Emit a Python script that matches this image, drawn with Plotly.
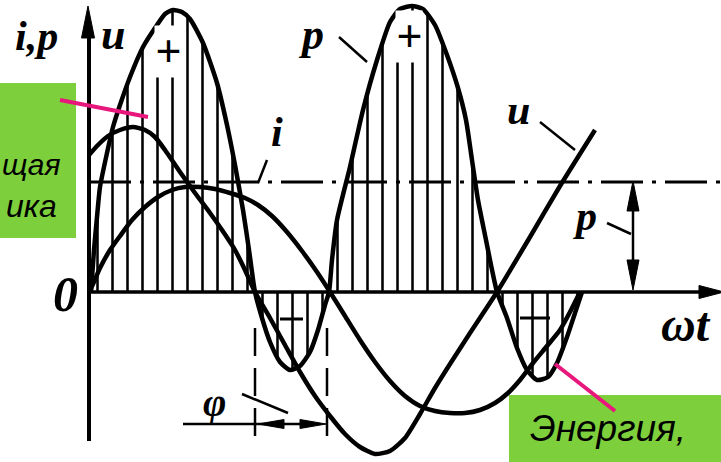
import plotly.graph_objects as go

W, H = 721, 462

# ωt in electrical degrees; u, i, p in relative units (zero line = 0)
p_deg = [1.5, 3.75, 6, 8.25, 13.5, 18, 23.25, 30.75, 40.5, 51, 57, 63, 69.75, 75.75, 85.5, 96,
         103.5, 109.5, 115.5, 120, 124.5,
         129.75, 135.75, 143.25, 150.75, 158.25, 165.75, 171.75, 177, 180,
         182.25, 186, 195.75, 205.5, 216, 225.75, 233.25, 242.25, 250.5, 259.5, 268.5, 276.75,
         282.75, 287.25, 291.75, 297.75, 301.5, 306,
         313.5, 321, 328.5, 336, 344.25, 351, 358.5, 364.5, 369.75]
p_val = [0, 0.42, 0.75, 1.05, 1.39, 1.65, 1.87, 2.15, 2.45, 2.67, 2.78, 2.82, 2.80, 2.73, 2.49, 2.09,
         1.67, 1.27, 0.82, 0.42, 0,
         -0.26, -0.50, -0.70, -0.78, -0.74, -0.60, -0.38, -0.13, 0,
         0.32, 0.72, 1.25, 1.82, 2.32, 2.70, 2.83, 2.86, 2.83, 2.67, 2.37, 2.04,
         1.72, 1.32, 0.92, 0.52, 0.27, 0,
         -0.26, -0.56, -0.78, -0.88, -0.85, -0.71, -0.45, -0.21, 0]

u_deg = [0, 6.75, 14.25, 23.25, 33, 42, 49.5, 57, 68.25, 79.5, 90.75, 99.75, 109.5, 117, 124.5,
         135.75, 147, 158.25, 169.5, 180.75, 192, 203.25, 214.5, 225.75, 237, 248.25, 259.5,
         270.75, 285.75, 306, 330.75, 353.25, 379.5]
u_val = [1.37, 1.47, 1.56, 1.62, 1.65, 1.62, 1.55, 1.42, 1.20, 0.99, 0.79, 0.62, 0.42, 0.22, 0,
         -0.26, -0.53, -0.80, -1.04, -1.24, -1.42, -1.55, -1.62, -1.59, -1.46, -1.22, -0.96,
         -0.72, -0.41, 0, 0.55, 1.06, 1.62]

i_deg = [0, 3, 8.25, 15.75, 23.25, 32.25, 42, 51.75, 62.25, 72, 83.25, 94.5, 105.75, 117, 126.75,
         137.25, 148.5, 159.75, 171, 180.75, 192, 203.25, 214.5, 225.75, 237, 248.25, 259.5,
         270.75, 282, 293.25, 304.5, 314.25, 323.25, 333, 343.5, 353.25, 360.75, 368.25]
i_val = [0, 0.08, 0.24, 0.42, 0.56, 0.72, 0.85, 0.95, 1.02, 1.05, 1.05, 1.03, 0.99, 0.94, 0.87,
         0.76, 0.60, 0.41, 0.20, 0, -0.24, -0.48, -0.70, -0.89, -1.04, -1.14, -1.19,
         -1.21, -1.21, -1.18, -1.11, -1.01, -0.88, -0.71, -0.54, -0.38, -0.20, 0]

P_avg = 1.10                 # average power level
P_span = [0, 474]            # ωt extent of the average-power line

X_RANGE = [-66.75, 474.0]
Y_RANGE = [-1.70, 2.92]

SERIF = "Liberation Serif"
SANS = "Liberation Sans"
GREEN = "#7DCF3B"
PINK = "#E8177C"


def pt(x, y):
    """pixel position -> paper fraction"""
    return x / W, 1 - y / H


def seg(x0, y0, x1, y1, color="black", width=2.5, dash=None):
    a, b = pt(x0, y0)
    c, d = pt(x1, y1)
    return dict(type="line", xref="paper", yref="paper", x0=a, y0=b, x1=c, y1=d,
                line=dict(color=color, width=width, dash=dash), layer="above")


def head(tx, ty, bx, by, half):
    """filled arrowhead with tip (tx, ty) and base centre (bx, by)"""
    dx, dy = tx - bx, ty - by
    ln = (dx * dx + dy * dy) ** 0.5
    nx, ny = -dy / ln * half, dx / ln * half
    pts = [(tx, ty), (bx + nx, by + ny), (bx - nx, by - ny)]
    path = "M " + " L ".join(f"{x / W:.5f},{1 - y / H:.5f}" for x, y in pts) + " Z"
    return dict(type="path", xref="paper", yref="paper", path=path, fillcolor="black",
                line=dict(color="black", width=1), layer="above")


def label(text, x, y, size, xanchor="center", family=SERIF, italic=True, weight="bold",
          bg=None):
    a, b = pt(x, y)
    return dict(text=text, x=a, y=b, xref="paper", yref="paper", showarrow=False,
                xanchor=xanchor, yanchor="middle", bgcolor=bg, borderpad=0,
                font=dict(family=family, size=size, color="black",
                          style="italic" if italic else "normal", weight=weight))


fig = go.Figure()

# instantaneous power with hatched area
fig.add_trace(go.Scatter(
    x=p_deg, y=p_val, mode="lines", name="p",
    line=dict(color="black", width=4.5, shape="spline", smoothing=0.6),
    fill="tozeroy", fillcolor="rgba(0,0,0,0)",
    fillpattern=dict(shape="|", fgcolor="black", bgcolor="rgba(0,0,0,0)",
                     size=15, solidity=0.17, fillmode="replace"),
))
# average power
fig.add_trace(go.Scatter(
    x=P_span, y=[P_avg, P_avg], mode="lines", name="P",
    line=dict(color="black", width=3, dash="42px,9px,4px,9px"),
))
# voltage and current
fig.add_trace(go.Scatter(
    x=u_deg, y=u_val, mode="lines", name="u",
    line=dict(color="black", width=4.5, shape="spline", smoothing=0.6),
))
fig.add_trace(go.Scatter(
    x=i_deg, y=i_val, mode="lines", name="i",
    line=dict(color="black", width=4.5, shape="spline", smoothing=0.6),
))

shapes = [
    # axes
    seg(89, 441, 89, 30, width=4),
    head(88, 6, 88, 38, 6.5),
    seg(89, 292, 705, 292, width=3.5),
    head(724, 292, 699, 292, 6.5),
    # P dimension
    seg(633, 200, 633, 272, width=2.5),
    head(633, 181, 633, 211, 6),
    head(633, 290, 633, 260, 6),
    seg(607, 223, 631, 234, width=2.5),
    # φ dimension
    seg(255, 328, 255, 436, width=2.5, dash="28px,12px"),
    seg(327, 328, 327, 438, width=2.5, dash="28px,12px"),
    seg(183, 424, 300, 424, width=2.5),
    head(258, 424, 284, 424, 4.5),
    head(326, 424, 300, 424, 4.5),
    seg(242, 394, 288, 413, width=2.5),
    # label leaders
    seg(339, 37, 367, 62, width=2.5),
    seg(267, 160, 258, 183, width=2.5),
    seg(540, 122, 575, 150, width=2.5),
    # minus signs in the negative lobes
    seg(280, 319, 303, 319, width=3),
    seg(520, 318, 550, 318, width=3),
    # callout boxes
    dict(type="rect", xref="paper", yref="paper", x0=0, x1=76 / W, y0=1 - 238 / H, y1=1 - 83 / H,
         fillcolor=GREEN, line=dict(width=0), layer="above"),
    dict(type="rect", xref="paper", yref="paper", x0=509 / W, x1=1, y0=0, y1=1 - 395 / H,
         fillcolor=GREEN, line=dict(width=0), layer="above"),
    seg(60, 100, 148, 117, color=PINK, width=4),
    seg(555, 364, 615, 411, color=PINK, width=4),
]

annotations = [
    label("i,p", 36, 36, 42),
    label("u", 113, 34, 44),
    label("p", 311, 34, 44),
    label("i", 277, 132, 42),
    label("u", 518, 110, 42),
    label("p", 585, 216, 42),
    label("0", 65, 294, 50),
    label("ωt", 660, 324, 48, xanchor="left"),
    label("φ", 215, 402, 40),
    label("+", 168, 52, 46, bg="white"),
    label("+", 409, 36, 46, bg="white"),
    label("щая", 62, 164, 30, xanchor="right", family=SANS, weight="normal"),
    label("ика", 58, 206, 32, xanchor="right", family=SANS, weight="normal"),
    label("Энергия,", 529, 428, 37, xanchor="left", family=SANS, weight="normal"),
]

fig.update_layout(
    width=W, height=H, margin=dict(l=0, r=0, t=0, b=0),
    paper_bgcolor="white", plot_bgcolor="white", showlegend=False,
    xaxis=dict(range=X_RANGE, visible=False, fixedrange=True),
    yaxis=dict(range=Y_RANGE, visible=False, fixedrange=True),
    shapes=shapes, annotations=annotations,
)

fig.write_html("out.html")
